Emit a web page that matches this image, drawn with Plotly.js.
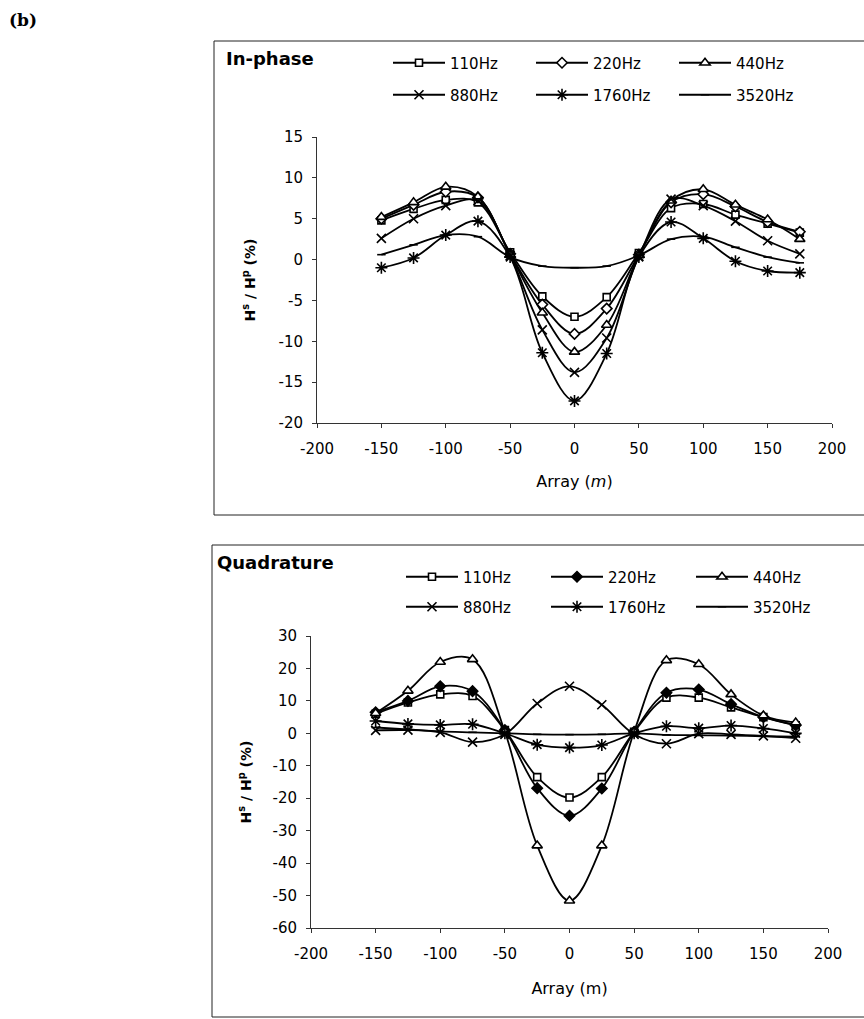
<!DOCTYPE html>
<html><head><meta charset="utf-8">
<script src="https://cdn.plot.ly/plotly-3.0.1.min.js"></script>
<style>html,body{margin:0;padding:0;background:#fff}</style>
</head><body><div id="chart" style="width:864px;height:1019px"></div>
<script>
// ---- data ----
const positions = [-150,-125,-100,-75,-50,-25,0,25,50,75,100,125,150,175];
const frequencies = ['110Hz','220Hz','440Hz','880Hz','1760Hz','3520Hz'];
const xTickVals = [-200,-150,-100,-50,0,50,100,150,200];
const xTickText = ['-200','-150','-100','-50','0','50','100','150','200'];
const yTopTickVals = [-20,-15,-10,-5,0,5,10,15];
const yTopTickText = ['-20','-15','-10','-5','0','5','10','15'];
const yBotTickVals = [-60,-50,-40,-30,-20,-10,0,10,20,30];
const yBotTickText = ['-60','-50','-40','-30','-20','-10','0','10','20','30'];

const inPhase110  = [4.8, 6.2, 7.3, 7.0, 0.9, -4.5, -7.0, -4.6, 0.8, 6.3, 6.8, 5.5, 4.4, 3.3];
const inPhase220  = [5.0, 6.7, 8.3, 7.6, 0.7, -5.5, -9.1, -6.0, 0.6, 7.0, 8.0, 6.5, 4.6, 3.4];
const inPhase440  = [5.2, 7.0, 8.9, 7.7, 0.6, -6.5, -11.3, -8.0, 0.5, 7.2, 8.6, 6.7, 4.9, 2.5];
const inPhase880  = [2.6, 5.0, 6.6, 7.2, 0.5, -8.6, -13.8, -9.6, 0.4, 7.4, 6.6, 4.7, 2.3, 0.7];
const inPhase1760 = [-1.0, 0.2, 3.0, 4.7, 0.3, -11.4, -17.3, -11.5, 0.3, 4.6, 2.6, -0.2, -1.4, -1.6];
const inPhase3520 = [0.6, 1.8, 3.0, 2.8, 0.3, -0.8, -1.0, -0.8, 0.5, 2.5, 2.8, 1.5, 0.3, -0.4];

const quad110  = [6.0, 9.5, 12.0, 11.5, 1.0, -13.5, -19.8, -13.5, 0.5, 11.0, 11.0, 8.0, 5.0, 2.5];
const quad220  = [6.5, 10.0, 14.5, 13.0, 1.0, -16.9, -25.4, -17.0, 0.5, 12.5, 13.5, 9.0, 5.0, 2.5];
const quad440  = [6.2, 13.1, 22.0, 22.8, 0.5, -34.6, -51.6, -34.6, 0.5, 22.5, 21.3, 12.0, 5.5, 3.3];
const quad880  = [0.9, 1.0, 0.3, -2.7, -0.3, 9.2, 14.5, 8.8, -0.3, -3.2, -0.1, -0.3, -0.8, -1.5];
const quad1760 = [3.8, 2.9, 2.6, 2.8, 0.0, -3.5, -4.4, -3.6, 0.0, 2.2, 1.6, 2.4, 1.5, 0.0];
const quad3520 = [1.8, 1.2, 0.6, 0.3, 0.0, -0.3, -0.4, -0.3, 0.0, -0.5, -0.6, -0.7, -0.9, -1.0];

const inPhaseSeries = [inPhase110, inPhase220, inPhase440, inPhase880, inPhase1760, inPhase3520];
const quadSeries = [quad110, quad220, quad440, quad880, quad1760, quad3520];

// ---- styles ----
const W = 864, H = 1019;
const F = 'DejaVu Sans, Verdana, sans-serif';
const px = v => v / W;
const py = v => 1 - v / H;

const markerStylesTop = [
  {symbol:'square', color:'#fff', size:7},
  {symbol:'diamond', color:'#fff', size:8},
  {symbol:'triangle-up', color:'#fff', size:9},
  {symbol:'x-thin-open', color:'#000', size:9},
  {symbol:'asterisk-open', color:'#000', size:10},
  {symbol:'line-ew-open', color:'#000', size:6}
];
const markerStylesBot = [
  {symbol:'square', color:'#fff', size:7},
  {symbol:'diamond', color:'#000', size:8},
  {symbol:'triangle-up', color:'#fff', size:9},
  {symbol:'x-thin-open', color:'#000', size:9},
  {symbol:'asterisk-open', color:'#000', size:10},
  {symbol:'line-ew-open', color:'#000', size:6}
];

const traces = [];
inPhaseSeries.forEach((ys, i) => {
  const m = markerStylesTop[i];
  traces.push({
    x: positions, y: ys, name: frequencies[i], type: 'scatter', mode: 'lines+markers',
    xaxis: 'x', yaxis: 'y', legend: i < 3 ? 'legend' : 'legend2',
    line: {color: '#000', width: 1.8, shape: 'spline', smoothing: 1},
    marker: {symbol: m.symbol, size: m.size, color: m.color, line: {color: '#000', width: 1.6}}
  });
});
quadSeries.forEach((ys, i) => {
  const m = markerStylesBot[i];
  traces.push({
    x: positions, y: ys, name: frequencies[i], type: 'scatter', mode: 'lines+markers',
    xaxis: 'x2', yaxis: 'y2', legend: i < 3 ? 'legend3' : 'legend4',
    line: {color: '#000', width: 1.8, shape: 'spline', smoothing: 1},
    marker: {symbol: m.symbol, size: m.size, color: m.color, line: {color: '#000', width: 1.6}}
  });
});

function legendCfg(xp, yp, ew) {
  return {orientation: 'h', x: px(xp), y: py(yp), xanchor: 'left', yanchor: 'middle',
    bgcolor: 'rgba(0,0,0,0)', borderwidth: 0, font: {family: F, size: 15, color: '#000'},
    entrywidth: ew, entrywidthmode: 'pixels', itemwidth: 52, itemclick: false, itemdoubleclick: false};
}

const axisCommon = {
  showline: true, linecolor: '#333', linewidth: 1, ticks: 'outside', ticklen: 4,
  tickcolor: '#333', showgrid: false, zeroline: false, fixedrange: true,
  tickfont: {family: F, size: 15, color: '#000'}
};
const yTitleFont = {family: F, size: 14, color: '#000', weight: 'bold'};

const layout = {
  width: W, height: H, margin: {l: 0, r: 0, t: 0, b: 0},
  paper_bgcolor: '#fff', plot_bgcolor: '#fff', showlegend: true,
  xaxis: Object.assign({}, axisCommon, {domain: [px(317), px(832)], range: [-200, 200],
    tickmode: 'array', tickvals: xTickVals, ticktext: xTickText, anchor: 'y', ticklabelstandoff: 8,
    title: {text: 'Array (<i>m</i>)', font: {family: F, size: 16, color: '#000'}, standoff: 18}}),
  yaxis: Object.assign({}, axisCommon, {domain: [1 - 423 / H, 1 - 137 / H], range: [-20, 15],
    tickmode: 'array', tickvals: yTopTickVals, ticktext: yTopTickText, anchor: 'x', ticklabelstandoff: 6,
    title: {text: 'H<sup>s</sup> / H<sup>p</sup> (%)', font: yTitleFont, standoff: 19}}),
  xaxis2: Object.assign({}, axisCommon, {domain: [px(311), px(828)], range: [-200, 200],
    tickmode: 'array', tickvals: xTickVals, ticktext: xTickText, anchor: 'y2', ticklabelstandoff: 8,
    title: {text: 'Array (m)', font: {family: F, size: 16, color: '#000'}, standoff: 20}}),
  yaxis2: Object.assign({}, axisCommon, {domain: [1 - 928 / H, 1 - 636 / H], range: [-60, 30],
    tickmode: 'array', tickvals: yBotTickVals, ticktext: yBotTickText, anchor: 'x2', ticklabelstandoff: 6,
    title: {text: 'H<sup>s</sup> / H<sup>p</sup> (%)', font: yTitleFont, standoff: 17}}),
  legend: legendCfg(388, 63, 76),
  legend2: legendCfg(388, 95, 76),
  legend3: legendCfg(401, 577, 78),
  legend4: legendCfg(401, 607, 78),
  shapes: [
    {type: 'rect', xref: 'paper', yref: 'paper', x0: px(214), x1: px(880), y0: py(515), y1: py(41),
      line: {color: '#222', width: 1}, fillcolor: 'rgba(0,0,0,0)'},
    {type: 'rect', xref: 'paper', yref: 'paper', x0: px(212), x1: px(880), y0: py(1017), y1: py(545),
      line: {color: '#222', width: 1}, fillcolor: 'rgba(0,0,0,0)'}
  ],
  annotations: [
    {text: '(b)', xref: 'paper', yref: 'paper', x: px(7), y: py(20), xanchor: 'left', yanchor: 'middle',
      showarrow: false, font: {family: 'DejaVu Serif, Liberation Serif, serif', size: 17, color: '#000', weight: 'bold'}},
    {text: 'In-phase', xref: 'paper', yref: 'paper', x: px(224), y: py(58), xanchor: 'left', yanchor: 'middle',
      showarrow: false, font: {family: F, size: 18, color: '#000', weight: 'bold'}},
    {text: 'Quadrature', xref: 'paper', yref: 'paper', x: px(215), y: py(562), xanchor: 'left', yanchor: 'middle',
      showarrow: false, font: {family: F, size: 18, color: '#000', weight: 'bold'}}
  ]
};

Plotly.newPlot('chart', traces, layout, {staticPlot: true, displayModeBar: false});
</script>
</body></html>
